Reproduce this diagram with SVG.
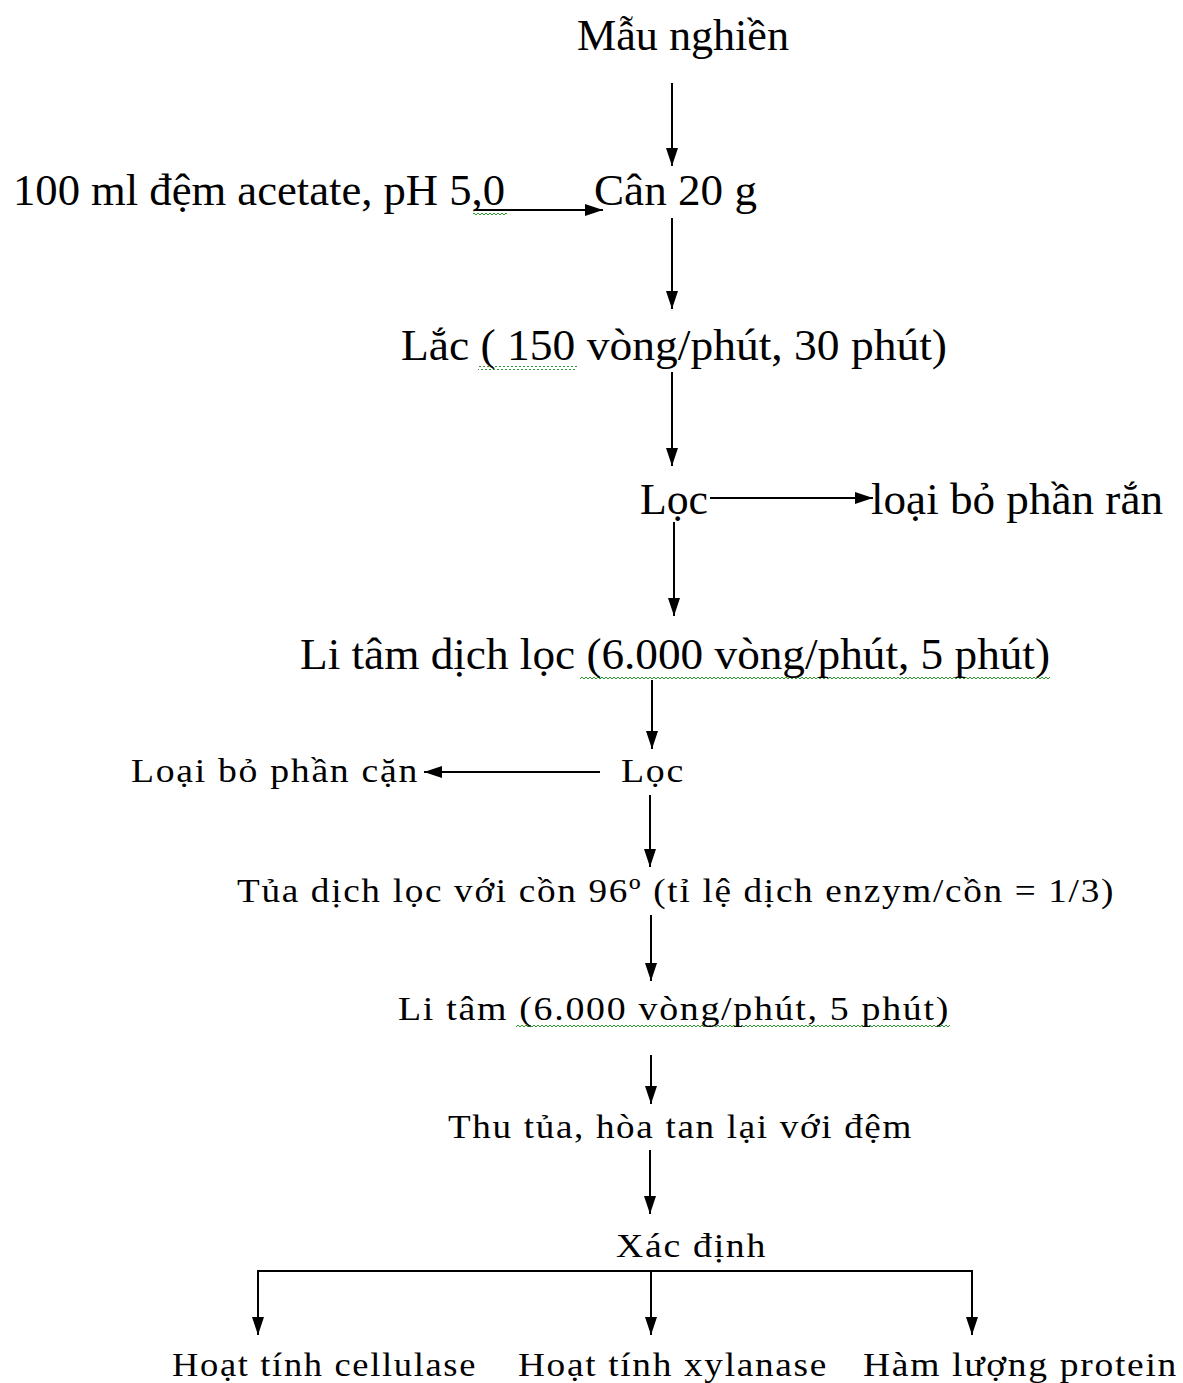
<svg xmlns="http://www.w3.org/2000/svg" width="1183" height="1383" viewBox="0 0 1183 1383">
<style>
text{font-family:"Liberation Serif","Times New Roman",serif;fill:#000}
.big{font-size:44px}
.sm{font-size:33px;letter-spacing:1.5px}
.ln{stroke:#000;stroke-width:2;fill:none}
.sq{fill:url(#zz)}
</style>
<defs>
<marker id="ah" markerUnits="userSpaceOnUse" markerWidth="20" markerHeight="14" refX="18" refY="6" orient="auto">
<path d="M0,0 L18,6 L0,12 z" fill="#000"/>
</marker>
<pattern id="zz" patternUnits="userSpaceOnUse" width="4" height="4">
<path d="M0,3 L2,1 L4,3" stroke="#2e9a2e" stroke-width="1" fill="none"/>
</pattern>
</defs>
<rect width="1183" height="1383" fill="#fff"/>
<g id="squiggles">
<rect class="sq" x="473" y="211" width="34" height="4"/>
<rect class="sq" x="478" y="366" width="99" height="4"/>
<rect class="sq" x="580" y="676" width="470" height="4"/>
<rect class="sq" x="516" y="1025" width="434" height="4"/>
</g>
<g id="n1"><text class="big" x="577" y="50" textLength="212" lengthAdjust="spacingAndGlyphs">Mẫu nghiền</text></g>
<g id="n2"><text class="big" x="13" y="205" textLength="492" lengthAdjust="spacingAndGlyphs">100 ml đệm acetate, pH 5,0</text></g>
<g id="n3"><text class="big" x="594" y="205" textLength="163" lengthAdjust="spacingAndGlyphs">Cân 20 g</text></g>
<g id="n4"><text class="big" x="401" y="360" textLength="546" lengthAdjust="spacingAndGlyphs">Lắc ( 150 vòng/phút, 30 phút)</text></g>
<g id="n5"><text class="big" x="640" y="514" textLength="68" lengthAdjust="spacingAndGlyphs">Lọc</text></g>
<g id="n6"><text class="big" x="871" y="514" textLength="292" lengthAdjust="spacingAndGlyphs">loại bỏ phần rắn</text></g>
<g id="n7"><text class="big" x="300" y="669" textLength="750" lengthAdjust="spacingAndGlyphs">Li tâm dịch lọc (6.000 vòng/phút, 5 phút)</text></g>
<g id="n8"><text class="sm" x="131" y="782" textLength="288" lengthAdjust="spacingAndGlyphs">Loại bỏ phần cặn</text></g>
<g id="n9"><text class="sm" x="621" y="782" textLength="64" lengthAdjust="spacingAndGlyphs">Lọc</text></g>
<g id="n10"><text class="sm" x="237" y="902" textLength="878" lengthAdjust="spacingAndGlyphs">Tủa dịch lọc với cồn 96º (tỉ lệ dịch enzym/cồn = 1/3)</text></g>
<g id="n11"><text class="sm" x="398" y="1020" textLength="552" lengthAdjust="spacingAndGlyphs">Li tâm (6.000 vòng/phút, 5 phút)</text></g>
<g id="n12"><text class="sm" x="448" y="1138" textLength="465" lengthAdjust="spacingAndGlyphs">Thu tủa, hòa tan lại với đệm</text></g>
<g id="n13"><text class="sm" x="616" y="1257" textLength="151" lengthAdjust="spacingAndGlyphs">Xác định</text></g>
<g id="n14"><text class="sm" x="172" y="1376" textLength="305" lengthAdjust="spacingAndGlyphs">Hoạt tính cellulase</text></g>
<g id="n15"><text class="sm" x="518" y="1376" textLength="310" lengthAdjust="spacingAndGlyphs">Hoạt tính xylanase</text></g>
<g id="n16"><text class="sm" x="863" y="1376" textLength="315" lengthAdjust="spacingAndGlyphs">Hàm lượng protein</text></g>
<g id="connectors">
<line class="ln" x1="672" y1="83" x2="672" y2="166" marker-end="url(#ah)"/>
<line class="ln" x1="475" y1="210" x2="603" y2="210" marker-end="url(#ah)"/>
<line class="ln" x1="672" y1="218" x2="672" y2="309" marker-end="url(#ah)"/>
<line class="ln" x1="672" y1="372" x2="672" y2="466" marker-end="url(#ah)"/>
<line class="ln" x1="710" y1="498" x2="873" y2="498" marker-end="url(#ah)"/>
<line class="ln" x1="674" y1="522" x2="674" y2="616" marker-end="url(#ah)"/>
<line class="ln" x1="652" y1="680" x2="652" y2="749" marker-end="url(#ah)"/>
<line class="ln" x1="600" y1="772" x2="424" y2="772" marker-end="url(#ah)"/>
<line class="ln" x1="650" y1="795" x2="650" y2="867" marker-end="url(#ah)"/>
<line class="ln" x1="651" y1="915" x2="651" y2="981" marker-end="url(#ah)"/>
<line class="ln" x1="651" y1="1055" x2="651" y2="1104" marker-end="url(#ah)"/>
<line class="ln" x1="650" y1="1150" x2="650" y2="1214" marker-end="url(#ah)"/>
<polyline class="ln" points="258,1335 258,1271 972,1271 972,1335"/>
<line class="ln" x1="258" y1="1280" x2="258" y2="1335" marker-end="url(#ah)"/>
<line class="ln" x1="651" y1="1271" x2="651" y2="1335" marker-end="url(#ah)"/>
<line class="ln" x1="972" y1="1280" x2="972" y2="1335" marker-end="url(#ah)"/>
</g>
</svg>
